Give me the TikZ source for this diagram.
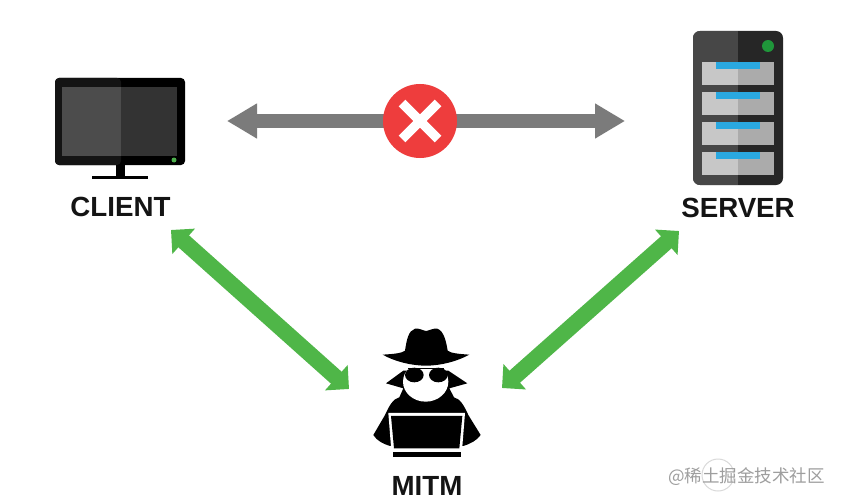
\documentclass[tikz,border=0pt]{standalone}
\usepackage{fontspec}
\setmainfont{Liberation Sans}
\newfontfamily\cjkfont{Noto Sans CJK SC}
\usetikzlibrary{arrows.meta}
\definecolor{linkgray}{HTML}{7B7B7B}
\definecolor{linkgreen}{HTML}{4FB648}
\definecolor{blockred}{HTML}{EE3D3D}
\definecolor{drawerblue}{HTML}{2AA8E0}
\definecolor{ledgreen}{HTML}{1F963A}
\begin{document}
\begin{tikzpicture}[
            x = 1pt, y = -1pt,
            every node/.style={inner sep=0pt, text depth=0pt},
            label/.style={font=\bfseries\fontsize{27.7}{30}\selectfont, text=black!92!white},
            graylink/.style={line width = 14pt, linkgray, {Triangle[length=30pt, width=33pt]}-{Triangle[length=30pt, width=33pt]}},
            greenlink/.style={line width = 16pt, linkgreen, {Triangle[length=17pt, width=33pt]}-{Triangle[length=17pt, width=33pt]}},
            ]
        \useasboundingbox (0, 0) rectangle (842, 500);
        \fill[white] (0, 0) rectangle (842, 500);

        % client
        \fill[black, rounded corners=4pt] (55, 78) rectangle (185, 165);
        \fill[black!92!white, rounded corners=4pt] (55, 78) -- (121, 78) -- (121, 165) -- (55, 165) -- cycle;
        \fill[black!70!white] (62, 87) rectangle (121, 156);
        \fill[black!80!white] (121, 87) rectangle (177, 156);
        \fill[black] (116, 165) rectangle (125, 177);
        \fill[black] (92, 176) rectangle (148, 179);
        \fill[green!55!black!70!white] (174, 160) circle (2.5);
        \node[label] (client) at (120.5, 207) {CLIENT};

        % server
        \fill[black!85!white, rounded corners=7pt] (693, 31) rectangle (783, 185);
        \begin{scope}
            \clip[rounded corners=7pt] (693, 31) rectangle (783, 185);
            \fill[black!72!white] (693, 31) rectangle (738, 185);
        \end{scope}
        \fill[ledgreen] (768, 46) circle (6);
        \foreach \y in {62, 92, 122, 152} {
            \fill[black!22!white] (702, \y) rectangle (738, \y + 23);
            \fill[black!33!white] (738, \y) rectangle (774, \y + 23);
            \fill[drawerblue] (716, \y) rectangle (760, \y + 7);
        }
        \node[label] (server) at (738, 207.5) {SERVER};

        % mitm
        \begin{scope}[shift={(360, 320)}, x = 0.3333pt, y = -0.3333pt]
            \fill[black] (130, 205) -- (78, 190) -- (130, 152) -- (265, 152) -- (322, 190) -- (268, 205) -- (282, 232)
                .. controls (300, 236) and (312, 256) .. (325, 285) -- (362, 345)
                .. controls (350, 362) and (330, 372) .. (310, 378) -- (90, 378)
                .. controls (70, 372) and (50, 362) .. (40, 345) -- (75, 285)
                .. controls (88, 256) and (100, 236) .. (118, 232) -- cycle;
            \fill[white] (197, 185) ellipse (68 and 60);
            \fill[black] (163, 165) ellipse (28 and 22);
            \fill[black] (235, 165) ellipse (28 and 22);
            \draw[black, line width=1.2pt] (145, 146) -- (252, 146);
            \fill[black] (68, 104) .. controls (100, 102) and (125, 100) .. (135, 92)
                .. controls (140, 60) and (145, 32) .. (165, 26)
                .. controls (178, 24) and (190, 32) .. (198, 33)
                .. controls (207, 32) and (220, 24) .. (232, 26)
                .. controls (250, 32) and (258, 60) .. (263, 92)
                .. controls (272, 100) and (300, 102) .. (328, 104)
                .. controls (290, 125) and (240, 137) .. (198, 137)
                .. controls (155, 137) and (105, 125) .. (68, 104) -- cycle;
            \fill[white] (85, 279) -- (315, 279) -- (306, 392) -- (94, 392) -- cycle;
            \fill[black] (93, 288) -- (307, 288) -- (298, 385) -- (102, 385) -- cycle;
            \fill[black] (98, 397) rectangle (303, 412);
        \end{scope}
        \node[label] (mitm) at (427, 486) {MITM};

        % links
        \coordinate (grayleft) at (227, 121);
        \coordinate (grayright) at (625, 121);
        \coordinate (clientend) at (171, 230);
        \coordinate (mitmleft) at (349, 389);
        \coordinate (mitmright) at (502, 388);
        \coordinate (serverend) at (679, 231);

        \draw[graylink] (grayleft) -- (grayright);
        \draw[greenlink] (clientend) -- (mitmleft);
        \draw[greenlink] (mitmright) -- (serverend);

        \node[circle, fill=blockred, minimum size=74pt] (block) at (420, 121) {};
        \draw[white, line width=9.5pt] (block.center) ++(-18, -18) -- ++(36, 36);
        \draw[white, line width=9.5pt] (block.center) ++(18, -18) -- ++(-36, 36);

        % watermark
        \draw[black!15!white, line width=1pt] (718, 475) circle (16);
        \node[font=\cjkfont\fontsize{17.5}{20}\selectfont, text=black!38!white] (mark) at (746.5, 475) {@稀土掘金技术社区};
    \end{tikzpicture}
\end{document}
